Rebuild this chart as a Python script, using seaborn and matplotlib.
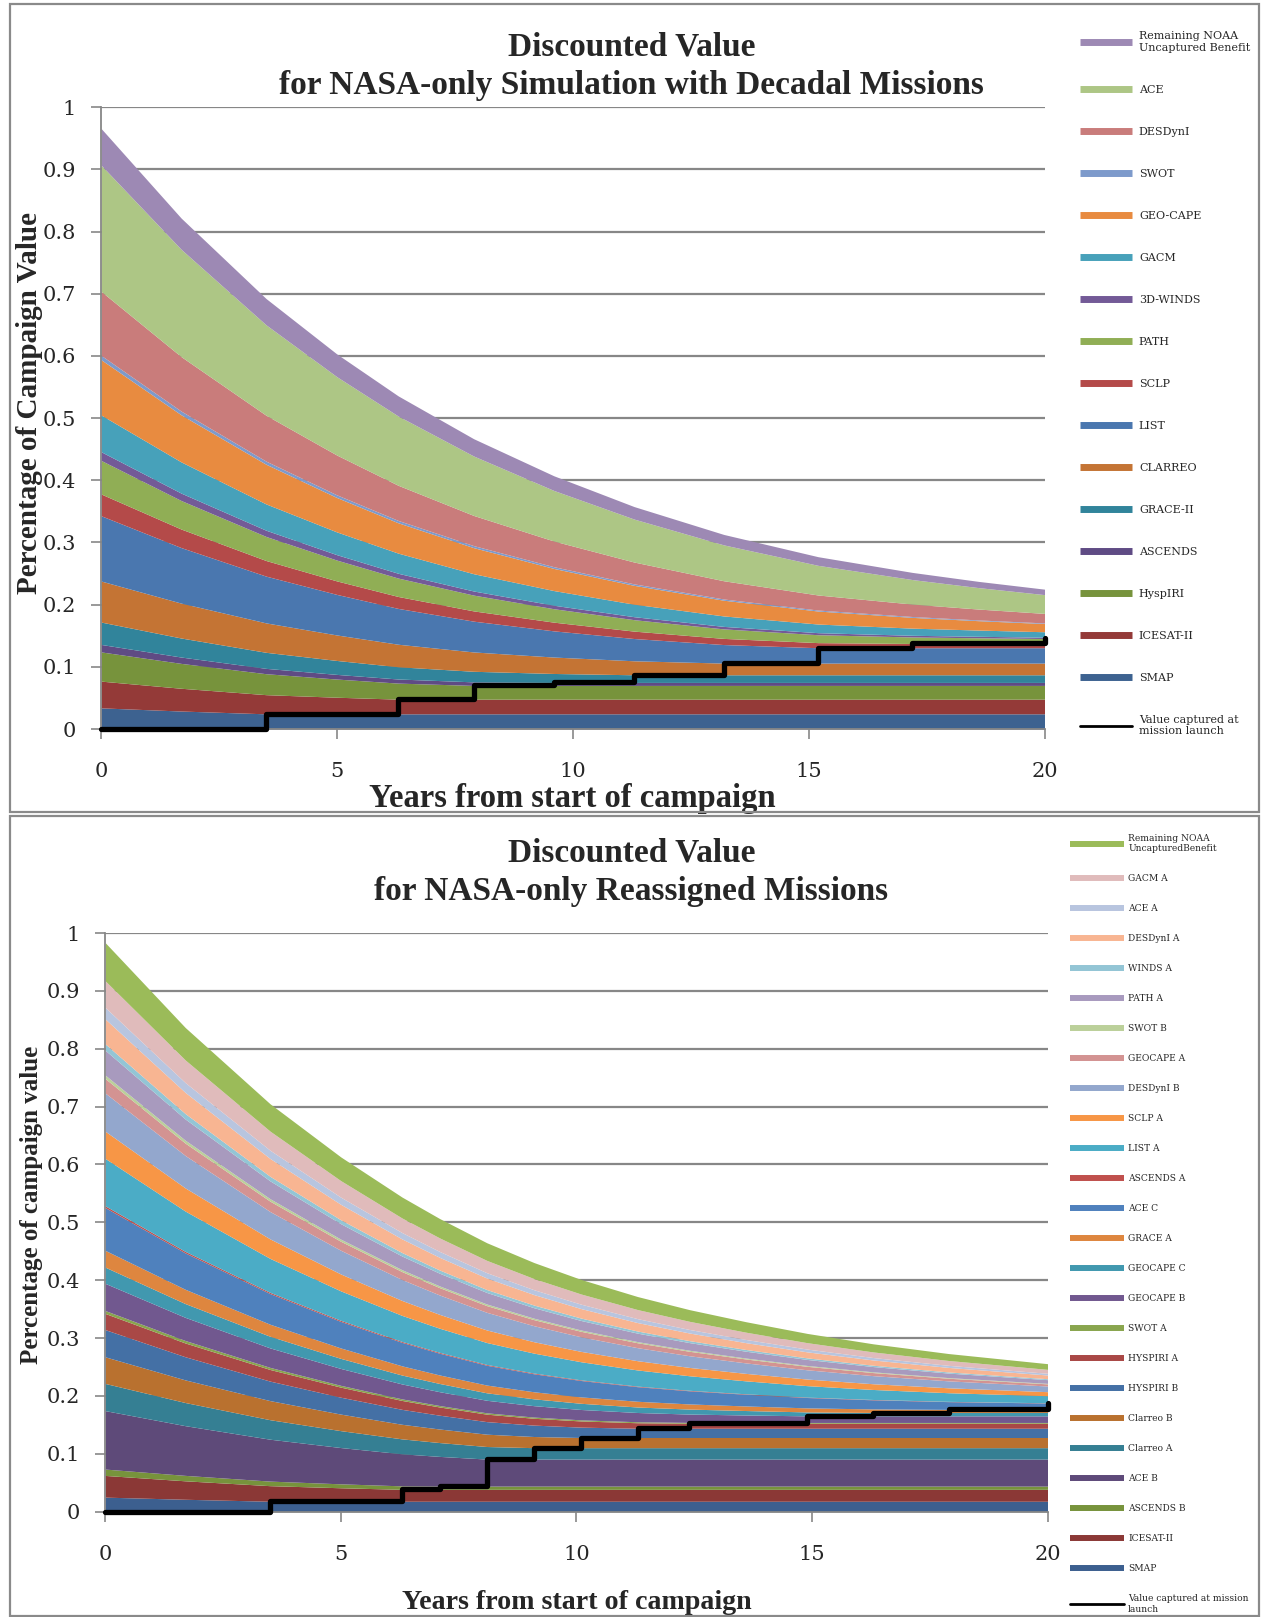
import numpy as np
import pandas as pd
import seaborn as sns
import matplotlib.pyplot as plt
from matplotlib.lines import Line2D
from matplotlib.patches import Rectangle

# ---- top chart: layer thickness (share of campaign value)
years_top = [0, 1.7, 3.5, 5, 6.3, 7.9, 9.6, 11.3, 13.2, 15.2, 17.2, 18.6, 20]
top_smap = [0.034, 0.0289, 0.0244, 0.0244, 0.0244, 0.0244, 0.0244, 0.0244, 0.0244, 0.0244, 0.0244, 0.0244, 0.0244]
top_icesat = [0.043, 0.0366, 0.0308, 0.0267, 0.0236, 0.0236, 0.0236, 0.0236, 0.0236, 0.0236, 0.0236, 0.0236, 0.0236]
top_hyspiri = [0.047, 0.0400, 0.0337, 0.0292, 0.0258, 0.0221, 0.0221, 0.0221, 0.0221, 0.0221, 0.0221, 0.0221, 0.0221]
top_ascends = [0.012, 0.0102, 0.0086, 0.0075, 0.0066, 0.0057, 0.0048, 0.0048, 0.0048, 0.0048, 0.0048, 0.0048, 0.0048]
top_grace = [0.036, 0.0306, 0.0258, 0.0224, 0.0197, 0.0170, 0.0144, 0.0123, 0.0123, 0.0123, 0.0123, 0.0123, 0.0123]
top_clarreo = [0.066, 0.0561, 0.0473, 0.0410, 0.0362, 0.0311, 0.0264, 0.0225, 0.0188, 0.0188, 0.0188, 0.0188, 0.0188]
top_list = [0.105, 0.0893, 0.0752, 0.0652, 0.0576, 0.0495, 0.0421, 0.0358, 0.0298, 0.0247, 0.0247, 0.0247, 0.0247]
top_sclp = [0.035, 0.0298, 0.0251, 0.0217, 0.0192, 0.0165, 0.0140, 0.0119, 0.0099, 0.0082, 0.0068, 0.0068, 0.0068]
top_path = [0.054, 0.0459, 0.0387, 0.0335, 0.0296, 0.0254, 0.0216, 0.0184, 0.0153, 0.0127, 0.0105, 0.0092, 0.0080]
top_3dwinds = [0.014, 0.0119, 0.0100, 0.0087, 0.0077, 0.0066, 0.0056, 0.0048, 0.0040, 0.0033, 0.0027, 0.0024, 0.0021]
top_gacm = [0.059, 0.0502, 0.0423, 0.0366, 0.0324, 0.0278, 0.0236, 0.0201, 0.0168, 0.0139, 0.0115, 0.0100, 0.0088]
top_geocape = [0.089, 0.0757, 0.0638, 0.0553, 0.0488, 0.0419, 0.0356, 0.0303, 0.0253, 0.0209, 0.0173, 0.0151, 0.0132]
top_swot = [0.007, 0.0060, 0.0050, 0.0043, 0.0038, 0.0033, 0.0028, 0.0024, 0.0020, 0.0016, 0.0014, 0.0012, 0.0010]
top_desdyni = [0.103, 0.0876, 0.0738, 0.0640, 0.0565, 0.0485, 0.0413, 0.0351, 0.0293, 0.0242, 0.0200, 0.0175, 0.0153]
top_ace = [0.203, 0.1726, 0.1454, 0.1260, 0.1114, 0.0956, 0.0813, 0.0691, 0.0577, 0.0477, 0.0394, 0.0345, 0.0302]
top_noaa = [0.059, 0.0502, 0.0423, 0.0366, 0.0324, 0.0278, 0.0236, 0.0201, 0.0168, 0.0139, 0.0115, 0.0100, 0.0088]

top_labels = ['SMAP', 'ICESAT-II', 'HyspIRI', 'ASCENDS', 'GRACE-II', 'CLARREO', 'LIST', 'SCLP',
              'PATH', '3D-WINDS', 'GACM', 'GEO-CAPE', 'SWOT', 'DESDynI', 'ACE',
              'Remaining NOAA\nUncaptured Benefit']

# black step line: launch year and value captured so far
launch_top = [0, 3.5, 6.3, 7.9, 9.6, 11.3, 13.2, 15.2, 17.2, 20]
captured_top = [0, 0.024, 0.048, 0.070, 0.075, 0.087, 0.106, 0.131, 0.138, 0.146]

# ---- bottom chart
years_bot = [0, 1.7, 3.5, 5, 6.3, 7.1, 8.1, 9.1, 10.1, 11.3, 12.4, 13.6, 14.9, 16.3, 17.9, 20]
bot_smap = [0.025, 0.0213, 0.0179, 0.0179, 0.0179, 0.0179, 0.0179, 0.0179, 0.0179, 0.0179, 0.0179, 0.0179, 0.0179, 0.0179, 0.0179, 0.0179]
bot_icesat = [0.0375, 0.0319, 0.0269, 0.0233, 0.0206, 0.0206, 0.0206, 0.0206, 0.0206, 0.0206, 0.0206, 0.0206, 0.0206, 0.0206, 0.0206, 0.0206]
bot_ascends_b = [0.011, 0.0094, 0.0079, 0.0068, 0.0060, 0.0056, 0.0056, 0.0056, 0.0056, 0.0056, 0.0056, 0.0056, 0.0056, 0.0056, 0.0056, 0.0056]
bot_ace_b = [0.101, 0.0859, 0.0724, 0.0627, 0.0554, 0.0513, 0.0467, 0.0467, 0.0467, 0.0467, 0.0467, 0.0467, 0.0467, 0.0467, 0.0467, 0.0467]
bot_clarreo_a = [0.047, 0.0400, 0.0337, 0.0292, 0.0258, 0.0239, 0.0217, 0.0197, 0.0197, 0.0197, 0.0197, 0.0197, 0.0197, 0.0197, 0.0197, 0.0197]
bot_clarreo_b = [0.046, 0.0391, 0.0330, 0.0286, 0.0252, 0.0234, 0.0213, 0.0193, 0.0176, 0.0176, 0.0176, 0.0176, 0.0176, 0.0176, 0.0176, 0.0176]
bot_hyspiri_b = [0.047, 0.0400, 0.0337, 0.0292, 0.0258, 0.0239, 0.0217, 0.0197, 0.0179, 0.0160, 0.0160, 0.0160, 0.0160, 0.0160, 0.0160, 0.0160]
bot_hyspiri_a = [0.028, 0.0238, 0.0201, 0.0174, 0.0154, 0.0142, 0.0129, 0.0118, 0.0107, 0.0095, 0.0086, 0.0086, 0.0086, 0.0086, 0.0086, 0.0086]
bot_swot_a = [0.005, 0.0043, 0.0036, 0.0031, 0.0027, 0.0025, 0.0023, 0.0021, 0.0019, 0.0017, 0.0015, 0.0014, 0.0014, 0.0014, 0.0014, 0.0014]
bot_geocape_b = [0.047, 0.0400, 0.0337, 0.0292, 0.0258, 0.0239, 0.0217, 0.0197, 0.0179, 0.0160, 0.0144, 0.0129, 0.0114, 0.0114, 0.0114, 0.0114]
bot_geocape_c = [0.028, 0.0238, 0.0201, 0.0174, 0.0154, 0.0142, 0.0129, 0.0118, 0.0107, 0.0095, 0.0086, 0.0077, 0.0068, 0.0059, 0.0059, 0.0059]
bot_grace_a = [0.029, 0.0247, 0.0208, 0.0180, 0.0159, 0.0147, 0.0134, 0.0122, 0.0111, 0.0099, 0.0089, 0.0079, 0.0070, 0.0061, 0.0053, 0.0053]
bot_ace_c = [0.074, 0.0629, 0.0530, 0.0459, 0.0406, 0.0376, 0.0342, 0.0311, 0.0283, 0.0252, 0.0227, 0.0202, 0.0179, 0.0157, 0.0134, 0.0110]
bot_ascends_a = [0.003, 0.0026, 0.0021, 0.0019, 0.0016, 0.0015, 0.0014, 0.0013, 0.0011, 0.0010, 0.0009, 0.0008, 0.0007, 0.0006, 0.0005, 0.0004]
bot_list_a = [0.082, 0.0697, 0.0587, 0.0509, 0.0450, 0.0417, 0.0379, 0.0344, 0.0313, 0.0279, 0.0251, 0.0224, 0.0198, 0.0173, 0.0149, 0.0122]
bot_sclp_a = [0.047, 0.0400, 0.0337, 0.0292, 0.0258, 0.0239, 0.0217, 0.0197, 0.0179, 0.0160, 0.0144, 0.0129, 0.0114, 0.0099, 0.0085, 0.0070]
bot_desdyni_b = [0.066, 0.0561, 0.0473, 0.0410, 0.0362, 0.0335, 0.0305, 0.0277, 0.0252, 0.0225, 0.0202, 0.0181, 0.0160, 0.0140, 0.0120, 0.0098]
bot_geocape_a = [0.025, 0.0213, 0.0179, 0.0155, 0.0137, 0.0127, 0.0116, 0.0105, 0.0095, 0.0085, 0.0077, 0.0068, 0.0060, 0.0053, 0.0045, 0.0037]
bot_swot_b = [0.006, 0.0051, 0.0043, 0.0037, 0.0033, 0.0030, 0.0028, 0.0025, 0.0023, 0.0020, 0.0018, 0.0016, 0.0015, 0.0013, 0.0011, 0.0009]
bot_path_a = [0.043, 0.0366, 0.0308, 0.0267, 0.0236, 0.0219, 0.0199, 0.0181, 0.0164, 0.0146, 0.0132, 0.0118, 0.0104, 0.0091, 0.0078, 0.0064]
bot_winds_a = [0.011, 0.0094, 0.0079, 0.0068, 0.0060, 0.0056, 0.0051, 0.0046, 0.0042, 0.0037, 0.0034, 0.0030, 0.0027, 0.0023, 0.0020, 0.0016]
bot_desdyni_a = [0.043, 0.0366, 0.0308, 0.0267, 0.0236, 0.0219, 0.0199, 0.0181, 0.0164, 0.0146, 0.0132, 0.0118, 0.0104, 0.0091, 0.0078, 0.0064]
bot_ace_a = [0.020, 0.0170, 0.0143, 0.0124, 0.0110, 0.0102, 0.0092, 0.0084, 0.0076, 0.0068, 0.0061, 0.0055, 0.0048, 0.0042, 0.0036, 0.0030]
bot_gacm_a = [0.046, 0.0391, 0.0330, 0.0286, 0.0252, 0.0234, 0.0213, 0.0193, 0.0176, 0.0157, 0.0141, 0.0126, 0.0111, 0.0097, 0.0084, 0.0068]
bot_noaa = [0.066, 0.0561, 0.0473, 0.0410, 0.0362, 0.0335, 0.0305, 0.0277, 0.0252, 0.0225, 0.0202, 0.0181, 0.0160, 0.0140, 0.0120, 0.0098]

bot_labels = ['SMAP', 'ICESAT-II', 'ASCENDS B', 'ACE B', 'Clarreo A', 'Clarreo B', 'HYSPIRI B',
              'HYSPIRI A', 'SWOT A', 'GEOCAPE B', 'GEOCAPE C', 'GRACE A', 'ACE C', 'ASCENDS A',
              'LIST A', 'SCLP A', 'DESDynI B', 'GEOCAPE A', 'SWOT B', 'PATH A', 'WINDS A',
              'DESDynI A', 'ACE A', 'GACM A', 'Remaining NOAA\nUncapturedBenefit']

launch_bot = [0, 3.5, 6.3, 7.1, 8.1, 9.1, 10.1, 11.3, 12.4, 13.6, 14.9, 16.3, 17.9, 20]
captured_bot = [0, 0.018, 0.0385, 0.044, 0.091, 0.110, 0.128, 0.144, 0.153, 0.154, 0.166, 0.171, 0.177, 0.188]

# ---- styling
top_colors = ['#3d6290', '#943a38', '#77933c', '#5f4b84', '#31849b', '#c47434', '#4a77af', '#b44a49',
              '#90ae55', '#735a97', '#47a1ba', '#e88b40', '#7d9acb', '#c97c7b', '#adc685', '#9d89b4']
bot_colors = ['#3c5f8f', '#8b3836', '#77933c', '#5e4a79', '#357f93', '#b9712f', '#4470a5', '#a94846',
              '#89a54e', '#71588f', '#4198af', '#de863f', '#4f81bd', '#c0504d', '#4bacc6', '#f79646',
              '#93a7cd', '#d39392', '#bbd09a', '#a89abe', '#93c5d5', '#f8b592', '#b8c5df', '#e0bbbb',
              '#9bbb59']

sns.set_style('white')
plt.rcParams['font.family'] = ['DejaVu Serif', 'DejaVu Sans']

W, H = 1263, 1617
fig = plt.figure(figsize=(W / 100, H / 100), dpi=100)

head_font = dict(family='Liberation Serif', weight='bold')
grey = '#878787'


def draw_panel(ax, years, layers, colors, launch, captured):
    ax.stackplot(years, *layers, colors=colors, linewidth=0)
    df = pd.DataFrame({'year': launch, 'captured': captured})
    sns.lineplot(data=df, x='year', y='captured', ax=ax, color='black', lw=3.8,
                 drawstyle='steps-post', clip_on=False, legend=False,
                 solid_joinstyle='round', solid_capstyle='round', zorder=5)
    ax.set_xlim(0, 20)
    ax.set_ylim(0, 1)
    ax.set_xticks([0, 5, 10, 15, 20])
    ax.set_yticks(np.arange(0, 1.01, 0.1))
    ax.set_yticklabels(['0', '0.1', '0.2', '0.3', '0.4', '0.5', '0.6', '0.7', '0.8', '0.9', '1'])
    ax.set_axisbelow(True)
    ax.yaxis.grid(True, color=grey, lw=1.6)
    ax.xaxis.grid(False)
    for s in ['top', 'right']:
        ax.spines[s].set_visible(False)
    for s in ['left', 'bottom']:
        ax.spines[s].set_color(grey)
        ax.spines[s].set_linewidth(1.3)
    ax.tick_params(axis='y', direction='out', length=7, width=1.2, color=grey,
                   labelsize=15, pad=11, left=True)
    ax.tick_params(axis='x', direction='out', length=7, width=1.2, color=grey,
                   labelsize=15, pad=17, bottom=True)


# top panel
ax1 = fig.add_axes([101 / W, 1 - 729 / H, 943.5 / W, 621.8 / H])
top_layers = [top_smap, top_icesat, top_hyspiri, top_ascends, top_grace, top_clarreo, top_list,
              top_sclp, top_path, top_3dwinds, top_gacm, top_geocape, top_swot, top_desdyni,
              top_ace, top_noaa]
draw_panel(ax1, years_top, top_layers, top_colors, launch_top, captured_top)
ax1.set_xlabel('Years from start of campaign', fontsize=23.5, **head_font)
ax1.xaxis.set_label_coords(0.4992, -0.087)
ax1.set_ylabel('Percentage of Campaign Value', fontsize=21, **head_font)
ax1.yaxis.set_label_coords(-0.061, 0.524)
fig.text(0.5, 1 - 66 / H, 'Discounted Value\nfor NASA-only Simulation with Decadal Missions',
         ha='center', va='center', fontsize=24, linespacing=1.33, **head_font)

# bottom panel
ax2 = fig.add_axes([105.2 / W, 1 - 1511.6 / H, 942.3 / W, 578.5 / H])
bot_layers = [bot_smap, bot_icesat, bot_ascends_b, bot_ace_b, bot_clarreo_a, bot_clarreo_b,
              bot_hyspiri_b, bot_hyspiri_a, bot_swot_a, bot_geocape_b, bot_geocape_c, bot_grace_a,
              bot_ace_c, bot_ascends_a, bot_list_a, bot_sclp_a, bot_desdyni_b, bot_geocape_a,
              bot_swot_b, bot_path_a, bot_winds_a, bot_desdyni_a, bot_ace_a, bot_gacm_a, bot_noaa]
draw_panel(ax2, years_bot, bot_layers, bot_colors, launch_bot, captured_bot)
ax2.set_xlabel('Years from start of campaign', fontsize=20.2, **head_font)
ax2.xaxis.set_label_coords(0.5007, -0.135)
ax2.set_ylabel('Percentage of campaign value', fontsize=18, **head_font)
ax2.yaxis.set_label_coords(-0.066, 0.530)
fig.text(0.5, 1 - 872.5 / H, 'Discounted Value\nfor NASA-only Reassigned Missions',
         ha='center', va='center', fontsize=24, linespacing=1.33, **head_font)


# legends (reversed stacking order, line for the captured value last)
def add_legend(labels, colors, line_label, anchor, size, lw, spacing, hlen, pad):
    handles = [Line2D([], [], color=c, lw=lw, solid_capstyle='butt') for c in colors[::-1]]
    handles.append(Line2D([], [], color='black', lw=2))
    fig.legend(handles, labels[::-1] + [line_label], loc='upper left', bbox_to_anchor=anchor,
               frameon=False, prop={'family': 'DejaVu Serif', 'size': size},
               labelspacing=spacing, handlelength=hlen, handletextpad=pad, borderpad=0,
               borderaxespad=0)


add_legend(top_labels, top_colors, 'Value captured at\nmission launch',
           (1080 / W, 1 - 31 / H), 8.0, 5, 2.88, 4.7, 0.6)
add_legend(bot_labels, bot_colors, 'Value captured at mission\nlaunch',
           (1070 / W, 1 - 834 / H), 6.6, 4.3, 2.29, 5.9, 0.45)

# panel frames
for y0, y1 in [(4, 812), (816, 1616)]:
    fig.patches.append(Rectangle((10 / W, 1 - y1 / H), 1249 / W, (y1 - y0) / H,
                                 transform=fig.transFigure, fill=False,
                                 edgecolor='#8a8a8a', lw=1.6))

fig.savefig('out.png', dpi=100)
